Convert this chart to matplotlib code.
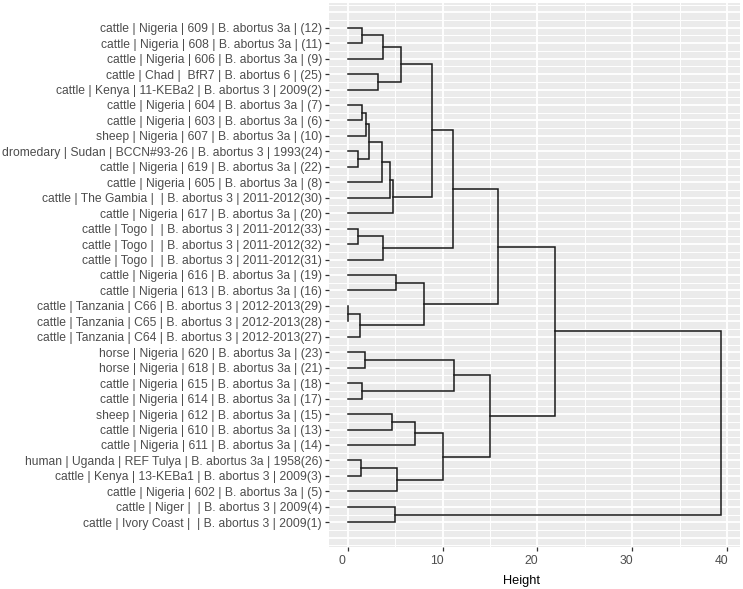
import numpy as np
import matplotlib.pyplot as plt
from matplotlib.transforms import ScaledTranslation

# leaf labels, top to bottom
labels = [
    "cattle | Nigeria | 609 | B. abortus 3a | (12)",
    "cattle | Nigeria | 608 | B. abortus 3a | (11)",
    "cattle | Nigeria | 606 | B. abortus 3a | (9)",
    "cattle | Chad |  BfR7 | B. abortus 6 | (25)",
    "cattle | Kenya | 11-KEBa2 | B. abortus 3 | 2009(2)",
    "cattle | Nigeria | 604 | B. abortus 3a | (7)",
    "cattle | Nigeria | 603 | B. abortus 3a | (6)",
    "sheep | Nigeria | 607 | B. abortus 3a | (10)",
    "dromedary | Sudan | BCCN#93-26 | B. abortus 3 | 1993(24)",
    "cattle | Nigeria | 619 | B. abortus 3a | (22)",
    "cattle | Nigeria | 605 | B. abortus 3a | (8)",
    "cattle | The Gambia |  | B. abortus 3 | 2011-2012(30)",
    "cattle | Nigeria | 617 | B. abortus 3a | (20)",
    "cattle | Togo |  | B. abortus 3 | 2011-2012(33)",
    "cattle | Togo |  | B. abortus 3 | 2011-2012(32)",
    "cattle | Togo |  | B. abortus 3 | 2011-2012(31)",
    "cattle | Nigeria | 616 | B. abortus 3a | (19)",
    "cattle | Nigeria | 613 | B. abortus 3a | (16)",
    "cattle | Tanzania | C66 | B. abortus 3 | 2012-2013(29)",
    "cattle | Tanzania | C65 | B. abortus 3 | 2012-2013(28)",
    "cattle | Tanzania | C64 | B. abortus 3 | 2012-2013(27)",
    "horse | Nigeria | 620 | B. abortus 3a | (23)",
    "horse | Nigeria | 618 | B. abortus 3a | (21)",
    "cattle | Nigeria | 615 | B. abortus 3a | (18)",
    "cattle | Nigeria | 614 | B. abortus 3a | (17)",
    "sheep | Nigeria | 612 | B. abortus 3a | (15)",
    "cattle | Nigeria | 610 | B. abortus 3a | (13)",
    "cattle | Nigeria | 611 | B. abortus 3a | (14)",
    "human | Uganda | REF Tulya | B. abortus 3a | 1958(26)",
    "cattle | Kenya | 13-KEBa1 | B. abortus 3 | 2009(3)",
    "cattle | Nigeria | 602 | B. abortus 3a | (5)",
    "cattle | Niger |  | B. abortus 3 | 2009(4)",
    "cattle | Ivory Coast |  | B. abortus 3 | 2009(1)",
]

# hclust-style merge table: negative = leaf (1-based, top to bottom),
# positive = earlier merge step (1-based)
merge_a = [-1, 1, -4, 2, -6, 5, -9, 6, 8, 9, 10, 4, -14, 13, 12, -17, -19, 17, 16, 15,
           -22, -24, 21, -26, 24, -29, 26, 25, 23, 20, -32, 30]
merge_b = [-2, -3, -5, 3, -7, -8, -10, 7, -11, -12, -13, 11, -15, -16, 14, -18, -20, -21, 18, 19,
           -23, -25, 22, -27, -28, -30, -31, 27, 28, 29, -33, 31]
merge_h = [1.5, 3.7, 3.2, 5.6, 1.5, 1.9, 1.1, 2.3, 3.6, 4.5, 4.8, 8.9, 1.1, 3.7, 11.1, 5.1,
           0.05, 1.3, 8.1, 15.8, 1.8, 1.5, 11.2, 4.7, 7.1, 1.4, 5.2, 10.0, 15.0, 21.9, 5.0, 39.4]

fig = plt.figure(figsize=(7.43, 5.89), dpi=100)
ax = fig.add_axes([329/743, 1 - 547/589, (740 - 329)/743, (547 - 3)/589])
ax.set_facecolor('#EBEBEB')

n = len(labels)
hmax = max(merge_h)
ax.set_xlim(-0.05*hmax, 1.05*hmax)
ax.set_ylim(n + 1.6, -0.6)

# grid
for v in [5, 15, 25, 35]:
    ax.axvline(v, color='white', lw=0.7, zorder=0)
for v in [0, 10, 20, 30, 40]:
    ax.axvline(v, color='white', lw=1.35, zorder=0)
for v in np.arange(-0.5, n + 1.6, 1.0):
    ax.axhline(v, color='white', lw=0.7, zorder=0)
for v in range(0, n + 2):
    ax.axhline(v, color='white', lw=1.35, zorder=0)

# dendrogram segments
pos = {}
hgt = {}

def node(c):
    if c < 0:
        return -c, 0.0
    return pos[c], hgt[c]

for k, (a, b, h) in enumerate(zip(merge_a, merge_b, merge_h), start=1):
    pa, ha = node(a)
    pb, hb = node(b)
    ax.plot([ha, h, h, hb], [pa, pa, pb, pb], color='#1a1a1a', lw=1.1,
            solid_joinstyle='miter', zorder=2)
    pos[k] = (pa + pb) / 2
    hgt[k] = h

ax.set_yticks(range(1, n + 1))
ax.set_yticklabels(labels)
ax.set_xticks([0, 10, 20, 30, 40])
ax.tick_params(axis='both', colors='#333333', length=3, width=0.9,
               labelcolor='#4D4D4D', labelsize=8.7, pad=2)
ax.tick_params(axis='x', pad=3)
shift = ScaledTranslation(-6/100, 0, fig.dpi_scale_trans)
for lab in ax.get_xticklabels():
    lab.set_transform(lab.get_transform() + shift)
for lab in ax.get_yticklabels() + ax.get_xticklabels():
    lab.set_family('Liberation Sans')
ax.set_xlabel("Height", family='Liberation Sans', fontsize=9.2, color='black')
ax.xaxis.set_label_coords((521 - 329) / (740 - 329), -0.052)

for s in ax.spines.values():
    s.set_visible(False)

plt.savefig("out.png", dpi=100)
